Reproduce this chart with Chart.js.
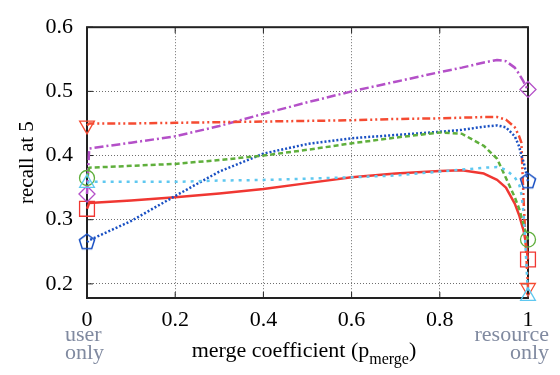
<!DOCTYPE html>
<html>
<head>
<meta charset="utf-8">
<script src="https://cdn.jsdelivr.net/npm/chart.js@4/dist/chart.umd.min.js"></script>
<style>
  body { margin: 0; background: #fff; }
  #wrap { width: 560px; height: 375px; }
</style>
</head>
<body>
<div id="wrap"><canvas id="c" width="560" height="375"></canvas></div>
<script>
// merge coefficient values (x)
const xs = [0, 0.005, 0.1, 0.2, 0.3, 0.4, 0.5, 0.6, 0.7, 0.8, 0.85, 0.9, 0.93, 0.95, 0.97, 0.98, 0.985, 0.99, 0.995, 1];

// recall at 5 for each run
const redSolid   = [0.317, 0.326, 0.330, 0.335, 0.341, 0.348, 0.357, 0.366, 0.372, 0.376, 0.377, 0.372, 0.362, 0.350, 0.325, 0.307, 0.295, 0.283, 0.265, 0.238];
const purpleDash = [0.340, 0.411, 0.420, 0.430, 0.446, 0.465, 0.483, 0.500, 0.515, 0.530, 0.537, 0.545, 0.549, 0.547, 0.537, 0.527, 0.521, 0.515, 0.508, 0.503];
const redDashDot = [0.447, 0.450, 0.450, 0.451, 0.452, 0.453, 0.454, 0.455, 0.457, 0.458, 0.459, 0.460, 0.460, 0.456, 0.444, 0.430, 0.420, 0.330, 0.260, 0.194];
const blueDot    = [0.265, 0.268, 0.298, 0.337, 0.375, 0.403, 0.418, 0.427, 0.432, 0.437, 0.440, 0.445, 0.447, 0.444, 0.430, 0.414, 0.400, 0.390, 0.375, 0.360];
const greenDash  = [0.365, 0.381, 0.384, 0.387, 0.393, 0.400, 0.409, 0.419, 0.428, 0.436, 0.434, 0.415, 0.395, 0.365, 0.335, 0.317, 0.305, 0.292, 0.280, 0.269];
const cyanDot    = [0.357, 0.359, 0.359, 0.359, 0.361, 0.362, 0.364, 0.366, 0.369, 0.375, 0.378, 0.381, 0.382, 0.378, 0.366, 0.355, 0.340, 0.310, 0.250, 0.181];

const xTicks = [0, 0.2, 0.4, 0.6, 0.8, 1];
const yTicks = [0.2, 0.3, 0.4, 0.5, 0.6];

function pts(ys) {
  return xs.map((x, i) => ({x: x, y: ys[i]}));
}

// gnuplot-like pentagon marker
function pentagon(color, r) {
  const cv = document.createElement('canvas');
  const s = Math.ceil(r * 2 + 4);
  cv.width = s; cv.height = s;
  const g = cv.getContext('2d');
  g.strokeStyle = color;
  g.lineWidth = 1.5;
  g.beginPath();
  for (let k = 0; k < 5; k++) {
    const a = -Math.PI / 2 + k * 2 * Math.PI / 5;
    const px = s / 2 + r * Math.cos(a), py = s / 2 + r * Math.sin(a);
    if (k === 0) g.moveTo(px, py); else g.lineTo(px, py);
  }
  g.closePath();
  g.stroke();
  return cv;
}

function endR(r) {
  return (ctx) => (ctx.dataIndex === 0 || ctx.dataIndex === xs.length - 1) ? r : 0;
}

function series(ys, color, dash, style, r, rot) {
  return {
    data: pts(ys),
    borderColor: color,
    backgroundColor: 'rgba(0,0,0,0)',
    borderWidth: 2.5,
    borderDash: dash,
    borderJoinStyle: 'round',
    pointStyle: style,
    pointRadius: endR(r),
    pointRotation: rot || 0,
    pointBorderColor: color,
    pointBorderWidth: 1.3,
    pointBackgroundColor: 'rgba(0,0,0,0)',
    tension: 0,
    clip: false
  };
}

const frame = {
  id: 'frame',
  beforeDatasetsDraw(chart) {
    const a = chart.chartArea, ctx = chart.ctx;
    const sx = chart.scales.x, sy = chart.scales.y;
    ctx.save();
    ctx.strokeStyle = '#222';
    ctx.lineWidth = 1;
    // small inner tick marks
    xTicks.forEach(v => {
      const p = sx.getPixelForValue(v);
      ctx.beginPath(); ctx.moveTo(p, a.bottom); ctx.lineTo(p, a.bottom - 6); ctx.stroke();
      ctx.beginPath(); ctx.moveTo(p, a.top); ctx.lineTo(p, a.top + 6); ctx.stroke();
    });
    yTicks.forEach(v => {
      const p = sy.getPixelForValue(v);
      ctx.beginPath(); ctx.moveTo(a.left, p); ctx.lineTo(a.left + 6, p); ctx.stroke();
      ctx.beginPath(); ctx.moveTo(a.right, p); ctx.lineTo(a.right - 6, p); ctx.stroke();
    });
    ctx.lineWidth = 2;
    ctx.strokeRect(a.left, a.top, a.right - a.left, a.bottom - a.top);
    ctx.restore();
  },
  afterDraw(chart) {
    const ctx = chart.ctx;
    ctx.save();
    // x axis title with subscript
    ctx.fillStyle = '#000';
    ctx.textBaseline = 'alphabetic';
    const main = 'merge coefficient (p';
    const sub = 'merge';
    ctx.font = '22px "Liberation Serif"';
    const w1 = ctx.measureText(main).width;
    const w3 = ctx.measureText(')').width;
    ctx.font = '16px "Liberation Serif"';
    const w2 = ctx.measureText(sub).width;
    const total = w1 + w2 + w3;
    let x0 = 304 - total / 2;
    ctx.font = '22px "Liberation Serif"';
    ctx.fillText(main, x0, 357);
    ctx.font = '16px "Liberation Serif"';
    ctx.fillText(sub, x0 + w1, 364);
    ctx.font = '22px "Liberation Serif"';
    ctx.fillText(')', x0 + w1 + w2, 357);
    // end labels
    ctx.fillStyle = 'rgb(128,138,160)';
    ctx.textAlign = 'left';
    ctx.fillText('user', 65, 341);
    ctx.fillText('only', 65, 359);
    ctx.textAlign = 'right';
    ctx.fillText('resource', 549, 341);
    ctx.fillText('only', 549, 359);
    ctx.restore();
  }
};

new Chart(document.getElementById('c'), {
  type: 'line',
  data: {
    datasets: [
      series(cyanDot, 'rgb(95,200,240)', [3, 5], 'triangle', 8.5, 0),
      series(greenDash, 'rgb(95,175,60)', [5, 3], 'circle', 7.5, 0),
      series(blueDot, 'rgb(25,80,195)', [2, 2], pentagon('rgb(25,80,195)', 8), 8, 0),
      series(redDashDot, 'rgb(245,75,50)', [8, 3, 2, 3, 2, 3], 'triangle', 8.5, 180),
      series(purpleDash, 'rgb(180,80,200)', [9, 3, 2, 3], 'rectRot', 8, 0),
      series(redSolid, 'rgb(240,55,50)', [], 'rect', 10.5, 0)
    ]
  },
  options: {
    responsive: false,
    animation: false,
    layout: { padding: { top: 16, right: 32, left: 0, bottom: 0 } },
    plugins: { legend: { display: false }, tooltip: { enabled: false } },
    scales: {
      x: {
        type: 'linear',
        min: 0, max: 1,
        afterFit(s) { s.height = 77; },
        afterBuildTicks(s) { s.ticks = xTicks.map(v => ({value: v})); },
        ticks: {
          padding: 9,
          color: '#000',
          font: { family: '"Liberation Serif"', size: 22 },
          callback: v => String(Math.round(v * 10) / 10)
        },
        grid: { color: 'rgb(110,110,110)', lineWidth: 1, drawTicks: false },
        border: { display: false, dash: [1, 2] }
      },
      y: {
        min: 0.178, max: 0.6,
        afterFit(s) { s.width = 87; },
        afterBuildTicks(s) { s.ticks = yTicks.map(v => ({value: v})); },
        ticks: {
          padding: 14,
          color: '#000',
          font: { family: '"Liberation Serif"', size: 22 },
          callback: v => v.toFixed(1)
        },
        title: {
          display: true,
          text: 'recall at 5',
          color: '#000',
          font: { family: '"Liberation Serif"', size: 21 },
          padding: { top: 15, bottom: 0 }
        },
        grid: { color: 'rgb(110,110,110)', lineWidth: 1, drawTicks: false },
        border: { display: false, dash: [1, 2] }
      }
    }
  },
  plugins: [frame]
});
</script>
</body>
</html>
